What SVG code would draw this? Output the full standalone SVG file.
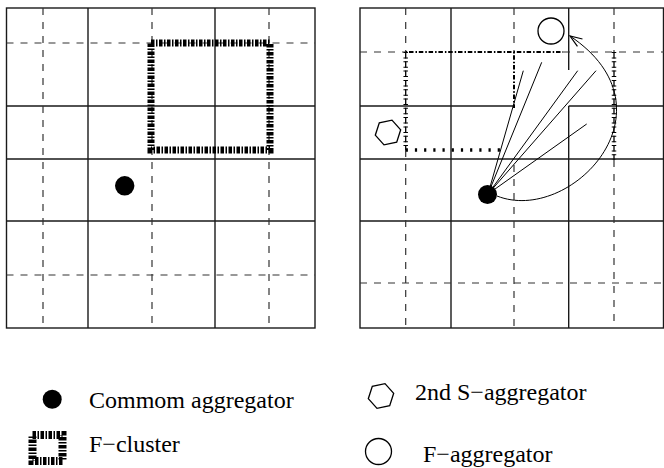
<svg xmlns="http://www.w3.org/2000/svg" width="664" height="468" viewBox="0 0 664 468">
<style>
.solid{stroke:#1a1a1a;stroke-width:1.4;fill:none}
.dash{stroke:#333;stroke-width:1.2;stroke-dasharray:7 7;fill:none}
.fc{stroke:#000;stroke-width:7;stroke-dasharray:3.5 1.5 1.5 1.5;fill:none}
.stem{stroke:#000;stroke-width:1.3;stroke-dasharray:6.5 2.8;fill:none}
.serif{stroke:#000;stroke-width:4.5;stroke-dasharray:1 4.5 1 2.8;fill:none}
.dotted{stroke:#000;stroke-width:3.5;stroke-dasharray:2.2 7;fill:none}
.dashdot{stroke:#000;stroke-width:2;stroke-dasharray:1.5 1.8 4.5 2;fill:none}
.fan{stroke:#000;stroke-width:1;fill:none}
.open{stroke:#000;stroke-width:1.3;fill:#fff}
text{font-family:"Liberation Serif","Times New Roman",serif;font-size:24px;fill:#000}
</style>
<defs>
<polygon id="hex" points="12.7,-2.7 8.7,9.7 -4,12.4 -12.7,2.7 -8.7,-9.7 4,-12.4"/>
<marker id="arr" markerUnits="userSpaceOnUse" viewBox="-13 -6 15 12" refX="0" refY="0" markerWidth="15" markerHeight="12" orient="auto">
<path d="M-12,-4.5 L0,0 L-12,4.5" stroke="#000" stroke-width="1.2" fill="none"/>
</marker>
</defs>

<g id="left-grid">
<rect class="solid" x="6.5" y="8" width="308.5" height="320"/>
<path class="solid" d="M88,8V328M215,8V328M6.5,106H315M6.5,159H315M6.5,221H315"/>
<path class="dash" d="M43,8V328M152,8V328M269,8V328M6.5,43H315M6.5,275H315"/>
</g>
<g id="f-cluster">
<rect class="fc" x="151" y="43" width="119" height="107"/>
</g>
<g id="left-common-aggregator">
<circle cx="124.7" cy="185.8" r="9.7" fill="#000"/>
</g>

<g id="right-grid">
<rect class="solid" x="360" y="8" width="303.5" height="320"/>
<path class="solid" d="M451,8V328M568.7,8V70M568.7,106V328M360,106H514M568.7,106H664M360,159H664M360,221H664"/>
<path class="dash" d="M405.7,8V52M405.7,150V328M514,8V52M514,165V328M614,8V52M614,160V328M360,52H405.7M563,52H664M360,283H664"/>
</g>
<g id="s-cluster">
<path class="dashdot" d="M405.7,52H563M514,52V108"/>
<path class="stem" d="M405.7,52V150M614,52V160"/>
<path class="serif" d="M405.7,52V150M614,52V160"/>
<path class="dotted" d="M405.7,150H505"/>
</g>
<g id="connectors">
<path class="fan" d="M488,194L523.3,70.7M488,194L541.7,62.3M488,194L577.7,70.7M488,194L596,70.7M488,194L586.7,124"/>
<path class="fan" d="M497,196C570,225 680,110 570,36" marker-end="url(#arr)"/>
</g>
<g id="right-common-aggregator">
<circle cx="487.5" cy="194.5" r="9.5" fill="#000"/>
</g>
<g id="f-aggregator">
<circle class="open" cx="551" cy="31" r="13"/>
</g>
<g id="s-aggregator-2nd">
<use href="#hex" x="388" y="132.5" class="open"/>
</g>

<g id="legend">
<circle cx="52.2" cy="399.2" r="9.5" fill="#000"/>
<text x="89" y="408">Commom aggregator</text>
<rect class="fc" x="32.5" y="435" width="30" height="26" style="stroke-width:8"/>
<text x="89" y="452">F−cluster</text>
<use href="#hex" x="381" y="396" class="open"/>
<text x="415" y="400">2nd S−aggregator</text>
<circle class="open" cx="378.5" cy="451.5" r="13"/>
<text x="423" y="462">F−aggregator</text>
</g>
</svg>
